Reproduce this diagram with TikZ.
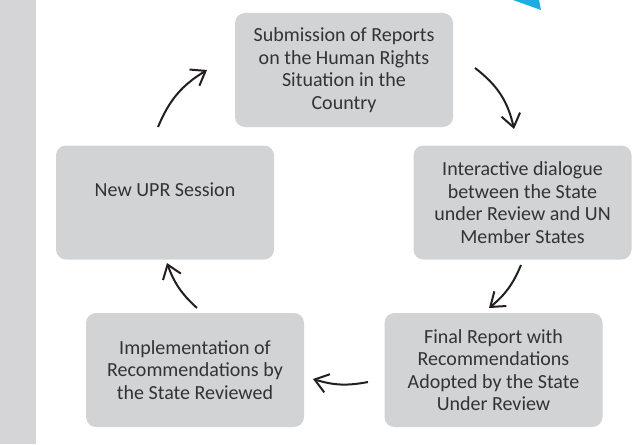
\documentclass[tikz,border=0pt]{standalone}
\usepackage{fontspec}
\setmainfont{Carlito}
\usetikzlibrary{arrows.meta}
\definecolor{boxgray}{HTML}{D1D3D4}
\definecolor{stripegray}{HTML}{D5D5D7}
\definecolor{txtgray}{HTML}{333333}
\definecolor{arrowblack}{HTML}{231F20}
\definecolor{cornercyan}{HTML}{1BADE4}
\begin{document}
\begin{tikzpicture}[x=1pt,y=-1pt,
  stagebox/.style={fill=boxgray, draw=none, rounded corners=10pt,
    minimum width=218pt, minimum height=114pt, inner sep=0pt,
    text=txtgray, align=center, font=\fontsize{20}{22.5}\selectfont},
  stagelabel/.style={text=txtgray, align=center, inner sep=0pt,
    font=\fontsize{20}{22.5}\selectfont},
  cyclearrow/.style={draw=arrowblack, line width=2pt,
    -{Straight Barb[length=13pt,width=19pt,line width=2pt]}}]
\useasboundingbox (0,0) rectangle (644,444);
% left stripe and corner accent
\fill[stripegray] (0,0) rectangle (36,444);
\fill[cornercyan] (513,0) -- (539,0) -- (541,10) -- cycle;
% stages
\node[stagebox] (submit) at (344,70)
  {Submission of Reports\\on the Human Rights\\Situation in the\\Country};
\node[stagebox] (dialogue) at (522.5,202.5)
  {Interactive dialogue\\between the State\\under Review and UN\\Member States};
\node[stagebox] (final) at (493.5,370)
  {Final Report with\\Recommendations\\Adopted by the State\\Under Review};
\node[stagebox] (implement) at (195,370)
  {Implementation of\\Recommendations by\\the State Reviewed};
\node[stagebox] (newsession) at (165,202.5) {};
\node[stagelabel] (newlabel) at (165,190) {New UPR Session};
% arrow end points
\coordinate (a1s) at (158,127); \coordinate (a1e) at (207,70);
\coordinate (a2s) at (475,68);  \coordinate (a2e) at (514,129);
\coordinate (a3s) at (521,265); \coordinate (a3e) at (489,308);
\coordinate (a4s) at (368,382); \coordinate (a4e) at (313,379);
\coordinate (a5s) at (197,308); \coordinate (a5e) at (167,263);
\draw[cyclearrow] (a1s) to[bend left=18] (a1e);
\draw[cyclearrow] (a2s) to[bend left=20] (a2e);
\draw[cyclearrow] (a3s) to[bend left=14] (a3e);
\draw[cyclearrow] (a4s) to[bend left=14] (a4e);
\draw[cyclearrow] (a5s) to[bend left=14] (a5e);
\end{tikzpicture}
\end{document}
